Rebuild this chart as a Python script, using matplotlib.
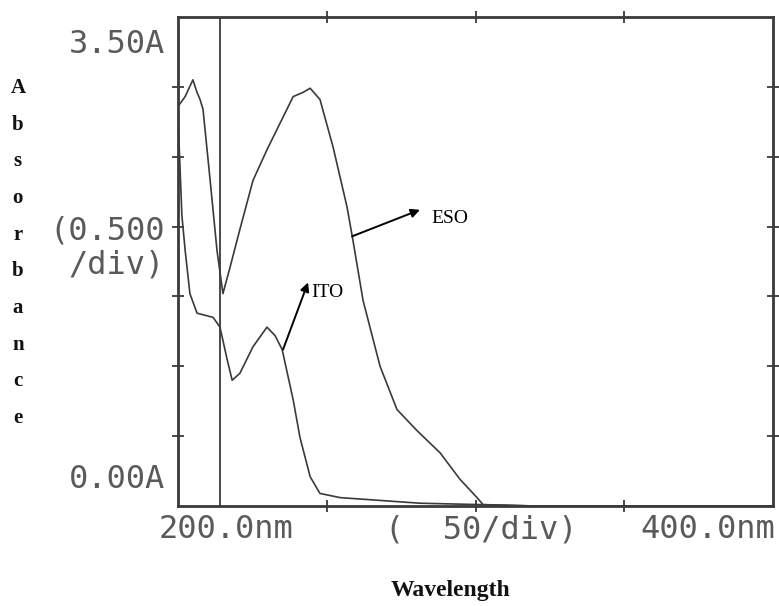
import numpy as np
import matplotlib
matplotlib.use("Agg")
import matplotlib.pyplot as plt

# spectra (nm, absorbance)
eso_nm = [200.0, 202.4, 205.0, 206.4, 207.4, 208.4, 210.8, 213.1, 215.1, 217.5,
          220.8, 225.2, 229.9, 234.3, 238.7, 242.0, 244.4, 247.7, 252.1, 256.8,
          258.8, 262.2, 267.9, 273.6, 280.3, 288.1, 294.8, 300.5, 302.5, 320.0,
          360.0, 400.0]
eso_abs = [2.86, 2.93, 3.05, 2.96, 2.91, 2.84, 2.33, 1.83, 1.52, 1.71,
           1.98, 2.33, 2.55, 2.74, 2.93, 2.96, 2.99, 2.91, 2.57, 2.14,
           1.90, 1.47, 1.00, 0.69, 0.54, 0.38, 0.19, 0.06, 0.01, 0.0,
           0.0, 0.0]

ito_nm = [200.0, 200.7, 201.3, 202.4, 204.0, 206.4, 211.8, 214.1, 216.5, 218.2,
          220.8, 225.2, 229.9, 232.6, 235.0, 238.7, 241.0, 244.4, 247.7, 254.5,
          267.9, 281.3, 301.5, 320.0, 400.0]
ito_abs = [2.80, 2.41, 2.08, 1.83, 1.52, 1.38, 1.35, 1.28, 1.05, 0.90,
           0.95, 1.14, 1.28, 1.22, 1.12, 0.76, 0.49, 0.21, 0.09, 0.06,
           0.04, 0.02, 0.01, 0.0, 0.0]

marker_nm = 214.0
x_ticks = [250, 300, 350]
y_ticks = [0.5, 1.0, 1.5, 2.0, 2.5, 3.0]

fig = plt.figure(figsize=(7.79, 6.06), dpi=100)
ax = fig.add_axes([0.2285, 0.165, 0.764, 0.807])

ink = "#3a3a3a"
ax.plot(eso_nm, eso_abs, color=ink, lw=1.2)
ax.plot(ito_nm, ito_abs, color=ink, lw=1.2)
ax.axvline(marker_nm, color=ink, lw=1.3)

ax.set_xlim(200, 400)
ax.set_ylim(0, 3.5)
ax.set_xticks(x_ticks)
ax.set_yticks(y_ticks)
ax.set_xticklabels([])
ax.set_yticklabels([])
ax.tick_params(direction="inout", length=9, width=1.3, color=ink,
               top=True, right=True)
for s in ax.spines.values():
    s.set_linewidth(2)
    s.set_color(ink)

# instrument style labels
mono = dict(family="DejaVu Sans Mono", color="#5a5a5a", fontsize=23)
fig.text(0.212, 0.927, "3.50A", ha="right", va="center", **mono)
fig.text(0.212, 0.618, "(0.500", ha="right", va="center", **mono)
fig.text(0.212, 0.562, "/div)", ha="right", va="center", **mono)
fig.text(0.212, 0.208, "0.00A", ha="right", va="center", **mono)
fig.text(0.204, 0.126, "200.0nm", ha="left", va="center", **mono)
fig.text(0.494, 0.126, "(  50/div)", ha="left", va="center", **mono)
fig.text(0.995, 0.126, "400.0nm", ha="right", va="center", **mono)

serif = dict(family="Liberation Serif", fontweight="bold", color="#111111")
fig.text(0.578, 0.025, "Wavelength", ha="center", va="center", fontsize=17, **serif)
for i, ch in enumerate("Absorbance"):
    fig.text(0.023, 0.855 - i * 0.0605, ch, ha="center", va="center",
             fontsize=15, **serif)

# arrows run from the curve out to the label
arrow = dict(arrowstyle="-|>", color="black", lw=1.4, mutation_scale=13,
             shrinkA=0, shrinkB=0)
ax.annotate("", xy=(281.3, 2.12), xytext=(258.5, 1.93), arrowprops=arrow)
ax.text(285.0, 2.06, "ESO", fontsize=14, family="Liberation Serif",
        va="center", ha="left")
ax.annotate("", xy=(243.7, 1.60), xytext=(235.3, 1.12), arrowprops=arrow)
ax.text(244.8, 1.53, "ITO", fontsize=14, family="Liberation Serif",
        va="center", ha="left")

fig.savefig("out.png", dpi=100)
